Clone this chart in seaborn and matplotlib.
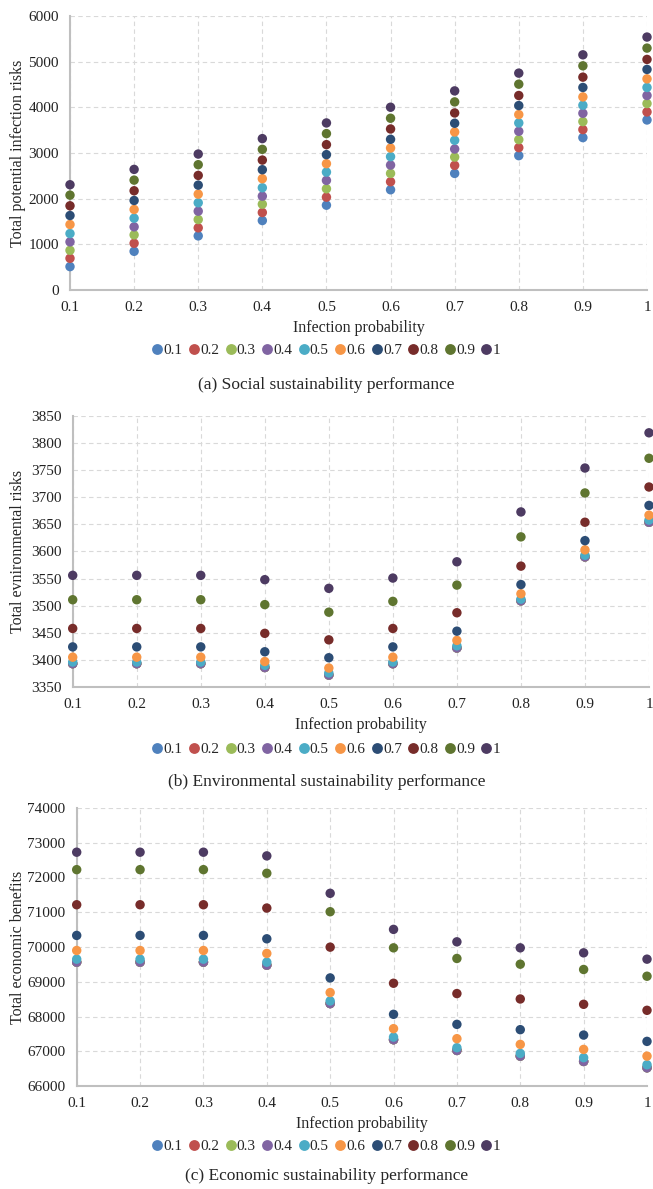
import matplotlib
matplotlib.use("Agg")
import matplotlib.pyplot as plt
import pandas as pd
import seaborn as sns

# x axis (infection probability) and the hue levels shown in the legend
infection_prob = [0.1, 0.2, 0.3, 0.4, 0.5, 0.6, 0.7, 0.8, 0.9, 1.0]
x_tick_labels = ["0.1", "0.2", "0.3", "0.4", "0.5", "0.6", "0.7", "0.8", "0.9", "1"]
levels = ["0.1", "0.2", "0.3", "0.4", "0.5", "0.6", "0.7", "0.8", "0.9", "1"]
level_colors = ["#4F81BD", "#C0504D", "#9BBB59", "#8064A2", "#4BACC6",
                "#F79646", "#2C4D75", "#772C2A", "#5F7530", "#4D3B62"]

# (a) total potential infection risks, one row per level
social = [
    [512, 847, 1185, 1521, 1857, 2195, 2553, 2942, 3337, 3723],
    [694, 1023, 1361, 1697, 2033, 2371, 2729, 3117, 3513, 3899],
    [869, 1207, 1543, 1879, 2217, 2553, 2911, 3293, 3688, 4083],
    [1054, 1383, 1726, 2055, 2400, 2735, 3087, 3475, 3870, 4259],
    [1236, 1572, 1910, 2239, 2582, 2920, 3278, 3658, 4046, 4435],
    [1434, 1763, 2099, 2437, 2766, 3109, 3460, 3842, 4228, 4624],
    [1631, 1960, 2296, 2634, 2964, 3300, 3651, 4039, 4435, 4830],
    [1844, 2173, 2509, 2845, 3183, 3526, 3877, 4259, 4661, 5049],
    [2077, 2406, 2744, 3080, 3425, 3761, 4119, 4507, 4909, 5297],
    [2305, 2641, 2977, 3315, 3658, 4002, 4360, 4749, 5150, 5539],
]

# (b) total environmental risks
environmental = [
    [3393, 3393, 3393, 3386, 3372, 3393, 3422, 3509, 3590, 3654],
    [3393, 3393, 3393, 3386, 3372, 3393, 3422, 3509, 3590, 3654],
    [3393, 3393, 3393, 3386, 3372, 3393, 3422, 3509, 3590, 3654],
    [3393, 3393, 3393, 3386, 3372, 3393, 3422, 3509, 3590, 3654],
    [3396, 3396, 3396, 3390, 3376, 3396, 3426, 3512, 3593, 3658],
    [3405, 3405, 3405, 3397, 3385, 3405, 3436, 3522, 3603, 3667],
    [3424, 3424, 3424, 3415, 3404, 3424, 3453, 3539, 3620, 3685],
    [3458, 3458, 3458, 3449, 3437, 3458, 3487, 3573, 3654, 3719],
    [3511, 3511, 3511, 3502, 3488, 3508, 3538, 3627, 3708, 3772],
    [3556, 3556, 3556, 3548, 3532, 3551, 3581, 3673, 3754, 3819],
]

# (c) total economic benefits
economic = [
    [69563, 69563, 69563, 69477, 68372, 67333, 67024, 66860, 66707, 66525],
    [69563, 69563, 69563, 69477, 68372, 67333, 67024, 66860, 66707, 66525],
    [69563, 69563, 69563, 69477, 68372, 67333, 67024, 66860, 66707, 66525],
    [69563, 69563, 69563, 69477, 68372, 67333, 67024, 66860, 66707, 66525],
    [69650, 69650, 69650, 69563, 68447, 67408, 67102, 66938, 66814, 66612],
    [69900, 69900, 69900, 69814, 68689, 67650, 67362, 67197, 67053, 66860],
    [70333, 70333, 70333, 70236, 69110, 68063, 67774, 67621, 67466, 67284],
    [71216, 71216, 71216, 71121, 69996, 68957, 68660, 68504, 68351, 68178],
    [72226, 72226, 72226, 72122, 71015, 69976, 69670, 69505, 69353, 69159],
    [72728, 72728, 72728, 72622, 71545, 70507, 70149, 69976, 69832, 69650],
]

sns.set_style("white")
plt.rcParams["font.family"] = ["Liberation Serif", "DejaVu Serif"]

W, H = 653, 1189
fig = plt.figure(figsize=(W / 100, H / 100), dpi=100)
palette = dict(zip(levels, level_colors))


def to_frame(rows):
    recs = []
    for lvl, row in zip(levels, rows):
        for x, v in zip(infection_prob, row):
            recs.append({"x": x, "y": v, "level": lvl})
    return pd.DataFrame(recs)


# panel specs: data, ylabel, yticks, title, then pixel layout (left, right, top, bottom, legend y, title y)
panels = [
    (social, "Total potential infection risks", list(range(0, 6001, 1000)),
     "(a) Social sustainability performance", 70, 647, 16, 290, 350, 385),
    (environmental, "Total evnironmental risks", list(range(3350, 3851, 50)),
     "(b) Environmental sustainability performance", 72.7, 649, 416, 687, 749, 782),
    (economic, "Total economic benefits", list(range(66000, 74001, 1000)),
     "(c) Economic sustainability performance", 76.7, 647, 808, 1086, 1146, 1176),
]

for rows, ylabel, yticks, title, left, right, top, bottom, leg_y, title_y in panels:
    ax = fig.add_axes([left / W, (H - bottom) / H, (right - left) / W, (bottom - top) / H])
    df = to_frame(rows)
    sns.scatterplot(data=df, x="x", y="y", hue="level", hue_order=levels,
                    palette=palette, s=46, linewidth=0, ax=ax, clip_on=False,
                    zorder=3)

    ax.set_xlim(0.1, 1.0)
    ax.set_ylim(yticks[0], yticks[-1])
    ax.set_xticks(infection_prob)
    ax.set_xticklabels(x_tick_labels)
    ax.set_yticks(yticks)
    ax.set_yticklabels([str(t) for t in yticks])
    ax.tick_params(axis="x", length=0, pad=8, labelsize=11, colors="#222222")
    ax.tick_params(axis="y", length=0, pad=8, labelsize=11, colors="#222222")
    ax.grid(True, color="#d9d9d9", linestyle=(0, (4, 3)), linewidth=0.8)
    ax.set_axisbelow(True)
    for side in ["top", "right"]:
        ax.spines[side].set_visible(False)
    for side in ["left", "bottom"]:
        ax.spines[side].set_color("#bfbfbf")
        ax.spines[side].set_linewidth(1.5)
    ax.set_xlabel("")
    ax.set_ylabel("")

    cx = (left + right) / 2 / W
    fig.text(cx, 1 - (bottom + 38) / H, "Infection probability", ha="center",
             va="center", fontsize=11.5)
    fig.text(18.5 / W, 1 - (top + bottom) / 2 / H, ylabel, rotation=90,
             ha="center", va="center", fontsize=11.5)

    handles, labels = ax.get_legend_handles_labels()
    ax.legend_.remove()
    fig.legend(handles, labels, loc="center", bbox_to_anchor=(0.5, 1 - leg_y / H),
               ncol=10, frameon=False, handlelength=0.6, handletextpad=0.1,
               columnspacing=0.45, fontsize=11, borderaxespad=0, markerscale=1.15)

    fig.text(0.5, 1 - title_y / H, title, ha="center", va="center", fontsize=12.5)

fig.savefig("out.png", dpi=100)
